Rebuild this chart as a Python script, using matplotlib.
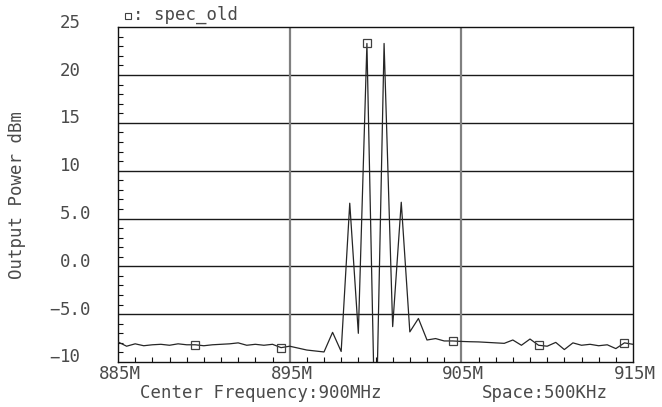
import numpy as np
import matplotlib
matplotlib.use("Agg")
import matplotlib.pyplot as plt
from matplotlib.ticker import MultipleLocator
import matplotlib.transforms as mtransforms

# ---- data ----
freq_start_mhz = 885.0
freq_step_mhz = 0.5
power_dbm = [
    -7.9, -8.35, -8.1, -8.3, -8.2, -8.15, -8.25, -8.1, -8.2, -8.2,      # 885.0 - 889.5
    -8.3, -8.2, -8.15, -8.1, -8.0, -8.25, -8.15, -8.25, -8.15, -8.5,    # 890.0 - 894.5
    -8.35, -8.55, -8.75, -8.85, -8.95, -6.9, -8.9, 6.6, -7.0, 23.3,     # 895.0 - 899.5
    -20.0, 23.3, -6.3, 6.7, -6.85, -5.45, -7.7, -7.55, -7.8, -7.8,      # 900.0 - 904.5
    -7.85, -7.88, -7.9, -7.95, -8.0, -8.05, -7.7, -8.25, -7.6, -8.25,   # 905.0 - 909.5
    -8.35, -7.95, -8.7, -8.0, -8.25, -8.15, -8.3, -8.2, -8.6, -8.0,     # 910.0 - 914.5
    -8.15,                                                              # 915.0
]
freqs = [freq_start_mhz + i * freq_step_mhz for i in range(len(power_dbm))]
marker_every = (9, 10)   # markers at 889.5, 894.5, ...

xtick_vals = [885, 895, 905, 915]
xtick_labels = ["885M", "895M", "905M", "915M"]
ytick_vals = [25, 20, 15, 10, 5, 0, -5, -10]
ytick_labels = ["25", "20", "15", "10", "5.0", "0.0", "\u22125.0", "\u221210"]

series_name = "spec_old"
xlabel_left = "Center Frequency:900MHz"
xlabel_right = "Space:500KHz"
ylabel = "Output Power dBm"

# ---- figure ----
FONT = "DejaVu Sans Mono"
TXT = "#4a4a4a"
W, H = 662, 407
fig = plt.figure(figsize=(W / 100, H / 100), dpi=100)
fig.patch.set_facecolor("white")
L, R, T, B = 118, 633, 27.2, 362
ax = fig.add_axes([L / W, 1 - B / H, (R - L) / W, (B - T) / H])

ax.set_xlim(885, 915)
ax.set_ylim(-10, 25)

# grid lines
for yv in ytick_vals:
    if -10 < yv < 25:
        ax.axhline(yv, color="#1a1a1a", lw=1.0, zorder=1)
for xv in xtick_vals:
    if 885 < xv < 915:
        ax.axvline(xv, color="#808080", lw=1.6, zorder=1)

ax.plot(freqs, power_dbm, color="#262626", lw=0.9, zorder=3,
        marker="s", markevery=marker_every, markersize=6,
        markerfacecolor="none", markeredgecolor="#404040", markeredgewidth=0.9)

for s in ax.spines.values():
    s.set_color("#111111")
    s.set_linewidth(1.0)

# ticks: minor inward ticks on left and bottom
ax.set_xticks(xtick_vals)
ax.set_yticks(ytick_vals)
ax.xaxis.set_minor_locator(MultipleLocator(1))
ax.yaxis.set_minor_locator(MultipleLocator(1))
ax.tick_params(which="both", direction="in", length=3.5, width=0.8, color="#111111",
               top=False, right=False)
ax.tick_params(which="major", length=0)
ax.set_xticklabels([])
ax.set_yticklabels([])

fs = 12.5
# x tick labels
xform = mtransforms.blended_transform_factory(ax.transData, ax.transAxes)
for xv, lab in zip(xtick_vals, xtick_labels):
    ax.text(xv, 0, lab, transform=xform + mtransforms.ScaledTranslation(2 / 100, -12 / 100, fig.dpi_scale_trans),
            ha="center", va="center", fontsize=fs, family=FONT, color=TXT)

# y tick labels: digits left-aligned, minus sign hanging to the left
yform = mtransforms.blended_transform_factory(ax.transAxes, ax.transData)
digit_x = (60 - L) / (R - L)
for yv, lab in zip(ytick_vals, ytick_labels):
    off = mtransforms.ScaledTranslation(0, 4.5 / 100, fig.dpi_scale_trans)
    if lab.startswith("\u2212"):
        ax.text(digit_x, yv, "\u2212", transform=yform + off, ha="right", va="center",
                fontsize=fs, family=FONT, color=TXT)
        lab = lab[1:]
    ax.text(digit_x, yv, lab, transform=yform + off, ha="left", va="center",
            fontsize=fs, family=FONT, color=TXT)

# axis labels
fig.text(140 / W, 1 - 393 / H, xlabel_left, ha="left", va="center",
         fontsize=fs, family=FONT, color=TXT)
fig.text(545 / W, 1 - 393 / H, xlabel_right, ha="center", va="center",
         fontsize=fs, family=FONT, color=TXT)
fig.text(17 / W, 1 - 195 / H, ylabel, rotation=90, ha="center", va="center",
         fontsize=fs, family=FONT, color=TXT)

# legend
fig.lines.append(matplotlib.lines.Line2D([128 / W], [1 - 15.5 / H], transform=fig.transFigure,
                                         marker="s", markersize=4.5, markerfacecolor="none",
                                         markeredgecolor="#404040", markeredgewidth=0.8,
                                         linestyle="none"))
fig.text(133 / W, 1 - 15 / H, ": " + series_name, ha="left", va="center",
         fontsize=fs, family=FONT, color=TXT)

fig.savefig("out.png", dpi=100, facecolor="white")
